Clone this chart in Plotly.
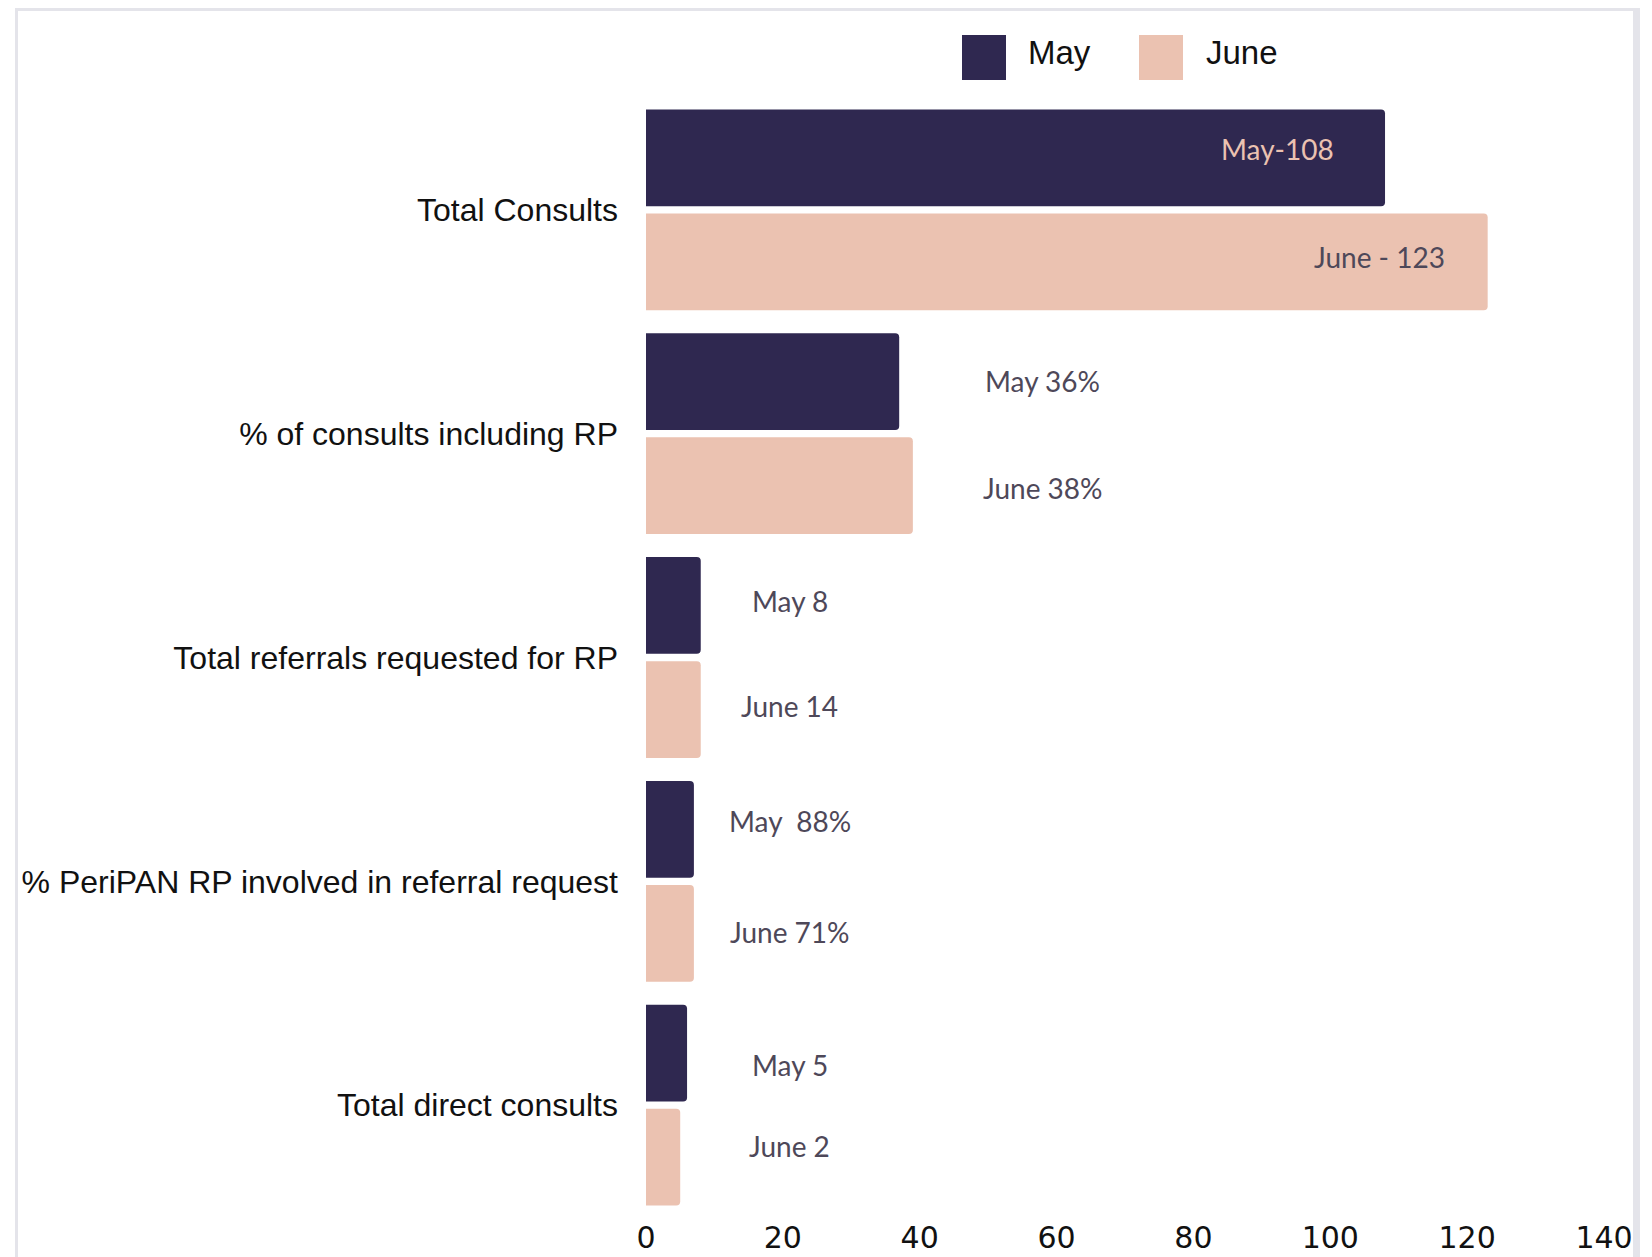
import plotly.graph_objects as go

# ---------------- data ----------------
categories = [
    "Total Consults",
    "% of consults including RP",
    "Total referrals requested for RP",
    "% PeriPAN RP involved in referral request",
    "Total direct consults",
]
series_names = ["May", "June"]
may_values = [108, 37, 8, 7, 6]
june_values = [123, 39, 8, 7, 5]
may_labels = ["May-108", "May 36%", "May 8", "May\u00a0 88%", "May 5"]
june_labels = ["June - 123", "June 38%", "June 14", "June 71%", "June 2"]
x_ticks = [0, 20, 40, 60, 80, 100, 120, 140]

# ---------------- styles / layout constants ----------------
OFF = 8  # page body margin
W, H = 1652 - OFF, 1257 - OFF
L, R, T, B = 646 - OFF, 1652 - 1604, 98 - OFF, 1257 - 1217
MAY_COLOR = "#2F2850"
JUNE_COLOR = "#EBC2B1"
AXIS_FONT = "Liberation Sans, Arial, sans-serif"
TICK_FONT = "DejaVu Sans, sans-serif"
LABEL_FONT = "Lato, Open Sans, sans-serif"
LABEL_COLOR = "#4E4859"

# label placement (pixel shifts / x positions for outside labels)
label_x = [None, 58, 21, 21, 21]
may_yshift = [61, 53, 57, 60, 40]
june_yshift = [-47, -54, -48, -51, -41]
inside_xshift = [-49, -41]


def px_x(px):
    # reference page pixel -> paper coordinate
    return (px - OFF - L) / (W - L - R)


def px_y(py):
    return (H - B - (py - OFF)) / (H - T - B)


fig = go.Figure()
fig.add_trace(go.Bar(y=categories, x=may_values, name=series_names[0], orientation="h",
                     marker=dict(color=MAY_COLOR, line=dict(width=0)), hoverinfo="x+y"))
fig.add_trace(go.Bar(y=categories, x=june_values, name=series_names[1], orientation="h",
                     marker=dict(color=JUNE_COLOR, line=dict(width=0)), hoverinfo="x+y"))

annotations = []
for i, cat in enumerate(categories):
    if label_x[i] is None:
        annotations.append(dict(x=may_values[i], y=cat, xref="x", yref="y", text=may_labels[i],
                                showarrow=False, xanchor="right", yanchor="middle",
                                xshift=inside_xshift[0], yshift=may_yshift[i],
                                font=dict(family=LABEL_FONT, size=28, color=JUNE_COLOR)))
        annotations.append(dict(x=june_values[i], y=cat, xref="x", yref="y", text=june_labels[i],
                                showarrow=False, xanchor="right", yanchor="middle",
                                xshift=inside_xshift[1], yshift=june_yshift[i],
                                font=dict(family=LABEL_FONT, size=28, color=LABEL_COLOR)))
    else:
        annotations.append(dict(x=label_x[i], y=cat, xref="x", yref="y", text=may_labels[i],
                                showarrow=False, xanchor="center", yanchor="middle",
                                yshift=may_yshift[i],
                                font=dict(family=LABEL_FONT, size=28, color=LABEL_COLOR)))
        annotations.append(dict(x=label_x[i], y=cat, xref="x", yref="y", text=june_labels[i],
                                showarrow=False, xanchor="center", yanchor="middle",
                                yshift=june_yshift[i],
                                font=dict(family=LABEL_FONT, size=28, color=LABEL_COLOR)))

# custom legend
legend_items = [(series_names[0], MAY_COLOR, 962, 1026), (series_names[1], JUNE_COLOR, 1139, 1204)]
shapes = []
for name, color, sx, tx in legend_items:
    shapes.append(dict(type="rect", xref="paper", yref="paper",
                       x0=px_x(sx), x1=px_x(sx + 44), y0=px_y(35), y1=px_y(80),
                       fillcolor=color, line=dict(width=0), layer="above"))
    annotations.append(dict(x=px_x(tx), y=px_y(53), xref="paper", yref="paper", text=name,
                            showarrow=False, xanchor="left", yanchor="middle",
                            font=dict(family=AXIS_FONT, size=33, color="#111111")))

# card frame
FRAME = "#E4E4EA"
shapes.append(dict(type="rect", xref="paper", yref="paper", x0=px_x(15), x1=px_x(1640),
                   y0=px_y(11), y1=px_y(6), fillcolor=FRAME, line=dict(width=0), layer="below"))
shapes.append(dict(type="rect", xref="paper", yref="paper", x0=px_x(15), x1=px_x(18),
                   y0=px_y(1257 + 5), y1=px_y(6), fillcolor=FRAME, line=dict(width=0), layer="below"))
shapes.append(dict(type="rect", xref="paper", yref="paper", x0=px_x(1633), x1=px_x(1640),
                   y0=px_y(1257 + 5), y1=px_y(6), fillcolor=FRAME, line=dict(width=0), layer="below"))

fig.update_layout(
    width=W, height=H,
    margin=dict(l=L, r=R, t=T, b=B, pad=0, autoexpand=False),
    paper_bgcolor="white", plot_bgcolor="white",
    barmode="group", bargap=0.07, bargroupgap=0.07, barcornerradius=4,
    showlegend=False,
    annotations=annotations, shapes=shapes,
    xaxis=dict(range=[0, 140], tickvals=x_ticks, ticktext=[str(v) for v in x_ticks],
               showgrid=False, zeroline=False, showline=False, ticks="", ticklabelstandoff=0,
               automargin=False,
               tickfont=dict(family=TICK_FONT, size=30, color="#111111")),
    yaxis=dict(autorange="reversed", showgrid=False, zeroline=False, showline=False,
               ticks="", ticklabelstandoff=27, automargin=False,
               tickfont=dict(family=AXIS_FONT, size=32, color="#111111")),
)

fig.write_html("out.html")
